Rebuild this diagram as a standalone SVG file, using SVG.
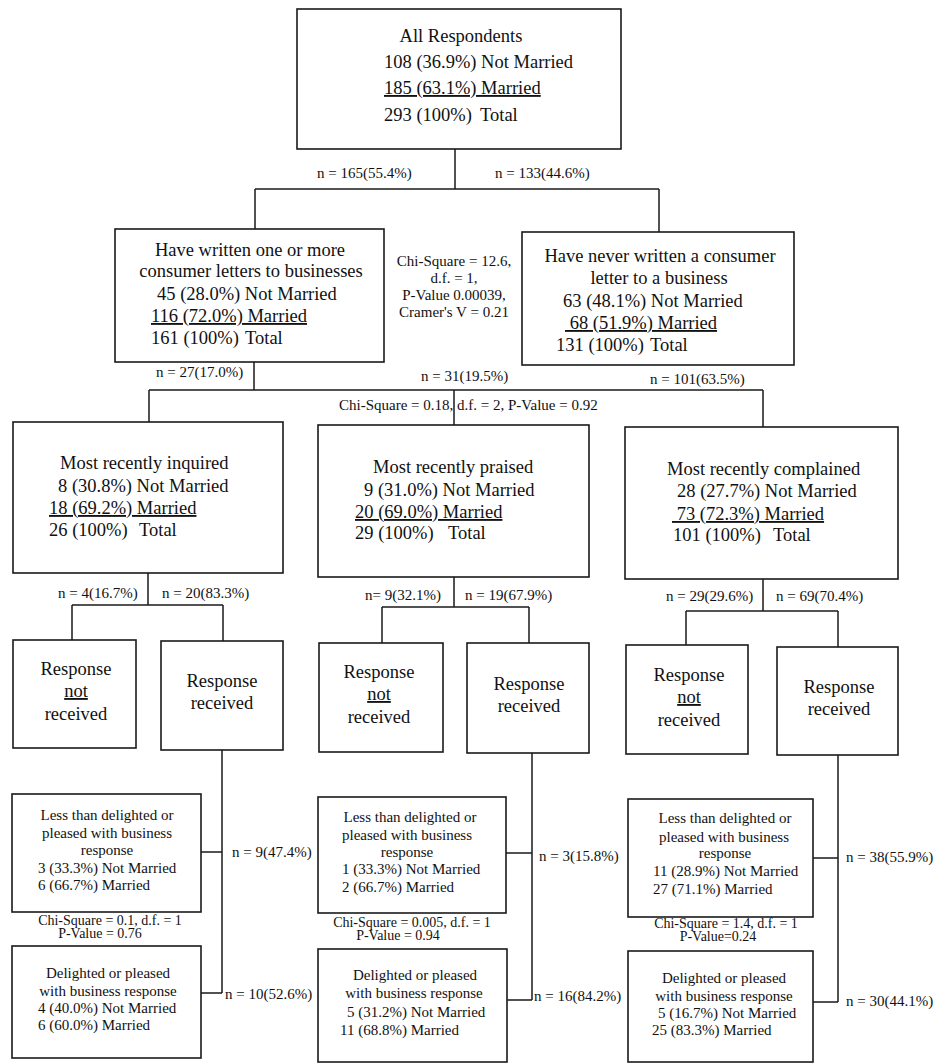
<svg xmlns="http://www.w3.org/2000/svg" width="935" height="1063" viewBox="0 0 935 1063">
  <style>
    .box { fill: #ffffff; stroke: #1a1a1a; stroke-width: 1.6; }
    .c { fill: none; stroke: #1a1a1a; stroke-width: 1.5; }
    text { font-family: "Liberation Serif", "Times New Roman", "DejaVu Serif", serif; fill: #111111; }
    .b { font-size: 18.5px; }
    .s { font-size: 15px; }
    .l { font-size: 15px; }
    .cs { font-size: 14px; }
    .m { text-anchor: middle; }
    .u { text-decoration: underline; }
  </style>
  <rect width="935" height="1063" fill="#ffffff"/>

  <!-- connectors -->
  <g id="connectors">
    <path class="c" d="M455,149 V189 M255,189 H659 M255,189 V229 M659,189 V232"/>
    <path class="c" d="M254,362 V390 M149,390 H763 M149,390 V422 M454,390 V425 M763,390 V427"/>
    <path class="c" d="M148,573 V605 M72,605 H223 M72,605 V640 M223,605 V641"/>
    <path class="c" d="M454,577 V607 M382,607 H529 M382,607 V643 M529,607 V643"/>
    <path class="c" d="M763,579 V611 M686,611 H838 M686,611 V645 M838,611 V647"/>
    <path class="c" d="M222,750 V993 M201,852 H222 M201,993 H222"/>
    <path class="c" d="M532,753 V1000 M506,853 H532 M507,1000 H532"/>
    <path class="c" d="M838,755 V1002 M813,858 H838 M813,1002 H838"/>
  </g>

  <!-- connector labels -->
  <g id="connector-labels" class="l">
    <text x="317" y="178">n = 165(55.4%)</text>
    <text x="495" y="178">n = 133(44.6%)</text>
    <text x="156" y="377">n = 27(17.0%)</text>
    <text x="421" y="381">n = 31(19.5%)</text>
    <text x="650" y="384">n = 101(63.5%)</text>
    <text x="58" y="598">n = 4(16.7%)</text>
    <text x="162" y="598">n = 20(83.3%)</text>
    <text x="365" y="600">n= 9(32.1%)</text>
    <text x="465" y="600">n = 19(67.9%)</text>
    <text x="666" y="601">n = 29(29.6%)</text>
    <text x="776" y="601">n = 69(70.4%)</text>
    <text x="232" y="857">n = 9(47.4%)</text>
    <text x="225" y="999">n = 10(52.6%)</text>
    <text x="539" y="861">n = 3(15.8%)</text>
    <text x="534" y="1001">n = 16(84.2%)</text>
    <text x="846" y="862">n = 38(55.9%)</text>
    <text x="846" y="1006">n = 30(44.1%)</text>
  </g>

  <!-- test statistics -->
  <g id="stats" class="s">
    <text class="m" x="454" y="266">Chi-Square = 12.6,</text>
    <text class="m" x="454" y="283">d.f. = 1,</text>
    <text class="m" x="454" y="300">P-Value 0.00039,</text>
    <text class="m" x="454" y="317">Cramer's V = 0.21</text>
    <text x="339" y="410">Chi-Square = 0.18, d.f. = 2, P-Value = 0.92</text>
    <text class="m cs" x="110" y="925">Chi-Square = 0.1, d.f. = 1</text>
    <text class="m cs" x="100" y="938">P-Value = 0.76</text>
    <text class="m cs" x="412" y="927">Chi-Square = 0.005, d.f. = 1</text>
    <text class="m cs" x="398" y="940">P-Value = 0.94</text>
    <text class="m cs" x="726" y="928">Chi-Square = 1.4, d.f. = 1</text>
    <text class="m cs" x="718" y="941">P-Value=0.24</text>
  </g>

  <!-- level 0 -->
  <g id="all-respondents" class="b">
    <rect class="box" x="297" y="9" width="324" height="140"/>
    <text class="m" x="461" y="42">All Respondents</text>
    <text x="384" y="68">108 (36.9%) Not Married</text>
    <text class="u" x="384" y="94">185 (63.1%) Married</text>
    <text x="384" y="121">293 (100%)</text>
    <text x="480" y="121">Total</text>
  </g>

  <!-- level 1 -->
  <g id="have-written" class="b">
    <rect class="box" x="115" y="229" width="269" height="133"/>
    <text class="m" x="250" y="256">Have written one or more</text>
    <text class="m" x="251" y="277">consumer letters to businesses</text>
    <text x="157" y="300">45 (28.0%) Not Married</text>
    <text class="u" x="151" y="322">116 (72.0%) Married</text>
    <text x="151" y="344">161 (100%)</text>
    <text x="245" y="344">Total</text>
  </g>

  <g id="never-written" class="b">
    <rect class="box" x="522" y="232" width="272" height="133"/>
    <text class="m" x="660" y="262">Have never written a consumer</text>
    <text class="m" x="659" y="284">letter to a business</text>
    <text x="563" y="307">63 (48.1%) Not Married</text>
    <text class="u" x="565" y="329" xml:space="preserve"> 68 (51.9%) Married</text>
    <text x="556" y="351">131 (100%)</text>
    <text x="650" y="351">Total</text>
  </g>

  <!-- level 2 -->
  <g id="inquired" class="b">
    <rect class="box" x="13" y="422" width="270" height="151"/>
    <text x="60" y="469">Most recently inquired</text>
    <text x="58" y="492">8 (30.8%) Not Married</text>
    <text class="u" x="49" y="514">18 (69.2%) Married</text>
    <text x="49" y="536">26 (100%)</text>
    <text x="139" y="536">Total</text>
  </g>

  <g id="praised" class="b">
    <rect class="box" x="318" y="425" width="271" height="152"/>
    <text x="373" y="473">Most recently praised</text>
    <text x="364" y="496">9 (31.0%) Not Married</text>
    <text class="u" x="355" y="518">20 (69.0%) Married</text>
    <text x="355" y="539">29 (100%)</text>
    <text x="448" y="539">Total</text>
  </g>

  <g id="complained" class="b">
    <rect class="box" x="625" y="427" width="273" height="152"/>
    <text x="667" y="475">Most recently complained</text>
    <text x="677" y="497">28 (27.7%) Not Married</text>
    <text class="u" x="672" y="520" xml:space="preserve"> 73 (72.3%) Married</text>
    <text x="673" y="541">101 (100%)</text>
    <text x="773" y="541">Total</text>
  </g>

  <!-- level 3 -->
  <g id="inquired-no-response" class="b">
    <rect class="box" x="13" y="640" width="123" height="108"/>
    <text class="m" x="76" y="675">Response</text>
    <text class="m u" x="76" y="697">not</text>
    <text class="m" x="76" y="720">received</text>
  </g>
  <g id="inquired-response" class="b">
    <rect class="box" x="161" y="641" width="122" height="109"/>
    <text class="m" x="222" y="687">Response</text>
    <text class="m" x="222" y="709">received</text>
  </g>

  <g id="praised-no-response" class="b">
    <rect class="box" x="319" y="643" width="124" height="109"/>
    <text class="m" x="379" y="678">Response</text>
    <text class="m u" x="379" y="700">not</text>
    <text class="m" x="379" y="723">received</text>
  </g>
  <g id="praised-response" class="b">
    <rect class="box" x="467" y="643" width="122" height="110"/>
    <text class="m" x="529" y="690">Response</text>
    <text class="m" x="529" y="712">received</text>
  </g>

  <g id="complained-no-response" class="b">
    <rect class="box" x="626" y="645" width="122" height="109"/>
    <text class="m" x="689" y="681">Response</text>
    <text class="m u" x="689" y="703">not</text>
    <text class="m" x="689" y="726">received</text>
  </g>
  <g id="complained-response" class="b">
    <rect class="box" x="777" y="647" width="121" height="108"/>
    <text class="m" x="839" y="693">Response</text>
    <text class="m" x="839" y="715">received</text>
  </g>

  <!-- level 4 -->
  <g id="inquired-less-delighted" class="s">
    <rect class="box" x="12" y="794" width="189" height="118"/>
    <text class="m" x="107" y="820">Less than delighted or</text>
    <text class="m" x="107" y="838">pleased with business</text>
    <text class="m" x="107" y="855">response</text>
    <text x="38" y="873">3 (33.3%) Not Married</text>
    <text x="38" y="890">6 (66.7%) Married</text>
  </g>
  <g id="inquired-delighted" class="s">
    <rect class="box" x="12" y="946" width="189" height="112"/>
    <text class="m" x="108" y="978">Delighted or pleased</text>
    <text class="m" x="108" y="996">with business response</text>
    <text x="38" y="1013">4 (40.0%) Not Married</text>
    <text x="38" y="1030">6 (60.0%) Married</text>
  </g>

  <g id="praised-less-delighted" class="s">
    <rect class="box" x="318" y="797" width="188" height="116"/>
    <text class="m" x="410" y="822">Less than delighted or</text>
    <text class="m" x="407" y="840">pleased with business</text>
    <text class="m" x="407" y="857">response</text>
    <text x="342" y="874">1 (33.3%) Not Married</text>
    <text x="342" y="892">2 (66.7%) Married</text>
  </g>
  <g id="praised-delighted" class="s">
    <rect class="box" x="318" y="949" width="189" height="113"/>
    <text class="m" x="415" y="980">Delighted or pleased</text>
    <text class="m" x="414" y="998">with business response</text>
    <text x="347" y="1017">5 (31.2%) Not Married</text>
    <text x="340" y="1035">11 (68.8%) Married</text>
  </g>

  <g id="complained-less-delighted" class="s">
    <rect class="box" x="628" y="799" width="185" height="118"/>
    <text class="m" x="725" y="823">Less than delighted or</text>
    <text class="m" x="724" y="842">pleased with business</text>
    <text class="m" x="725" y="858">response</text>
    <text x="653" y="876">11 (28.9%) Not Married</text>
    <text x="653" y="894">27 (71.1%) Married</text>
  </g>
  <g id="complained-delighted" class="s">
    <rect class="box" x="628" y="951" width="185" height="111"/>
    <text class="m" x="724" y="983">Delighted or pleased</text>
    <text class="m" x="724" y="1001">with business response</text>
    <text x="658" y="1018">5 (16.7%) Not Married</text>
    <text x="652" y="1035">25 (83.3%) Married</text>
  </g>
</svg>
